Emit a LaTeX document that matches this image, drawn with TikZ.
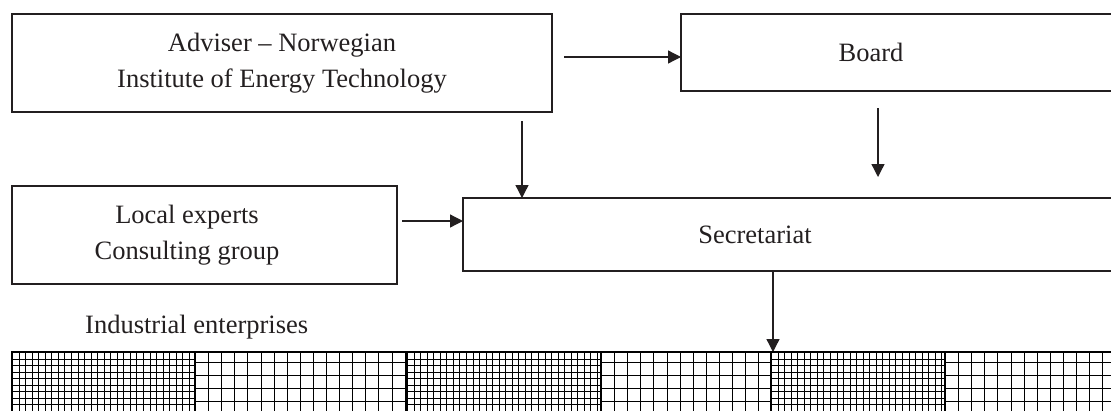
\documentclass[tikz,border=0pt]{standalone}
\usepackage{fontspec}
\setmainfont{Liberation Serif}
\usetikzlibrary{arrows.meta,calc}
\definecolor{ink}{HTML}{231F20}
\begin{document}
\begin{tikzpicture}[x=1bp,y=-1bp,
  box/.style={draw=ink,line width=1.8bp,inner sep=0pt,outer sep=0pt},
  txt/.style={font=\fontsize{26.5bp}{36bp}\selectfont,align=center,inner sep=0pt,text=ink},
  arr/.style={draw=ink,line width=1.3bp,-{Triangle[length=13bp,width=13bp]}},
  fine/.style={draw=black,line width=1.1bp},
  coarse/.style={draw=black,line width=1.7bp},
  sep/.style={draw=black,line width=2.2bp}]
\useasboundingbox (0,0) rectangle (1111,410);
\clip (0,0) rectangle (1111,410);

% boxes
\node[box,txt,minimum width=540bp,minimum height=98bp] (adv) at (282,63) {Adviser – Norwegian\\Institute of Energy Technology};
\node[box,minimum width=440bp,minimum height=77bp] (board) at (901,52.5) {};
\node[txt] (boardtxt) at (871,52.5) {Board};
\node[box,minimum width=385bp,minimum height=98bp] (loc) at (204.5,235) {};
\node[txt] (loctxt) at (187,235) {Local experts\\Consulting group};
\node[box,minimum width=660bp,minimum height=73bp] (sec) at (793,234.5) {};
\node[txt] (sectxt) at (755,234.5) {Secretariat};
\node[txt,anchor=base west] (ind) at (85,333) {Industrial enterprises};

% helper coordinates
\coordinate (xa) at (522,0);
\coordinate (xb) at (878,0);
\coordinate (xc) at (773,0);
\coordinate (ay) at (0,57);
\coordinate (ly) at (0,221);
\coordinate (bend) at (878,177);
\coordinate (bandtop) at (0,352);

% connectors
\draw[arr] ($(adv.east |- ay)+(12,0)$) -- (board.west |- ay);
\draw[arr] ($(adv.south -| xa)+(0,9)$) -- (sec.north -| xa);
\draw[arr] ($(board.south -| xb)+(0,17)$) -- (bend);
\draw[arr] ($(loc.east |- ly)+(5,0)$) -- (sec.west |- ly);
\draw[arr] (sec.south -| xc) -- (bandtop -| xc);

% industrial enterprises band
\foreach \a/\b in {12/195,407/601,771/945}{
  \begin{scope}
    \clip (\a,352) rectangle (\b,411);
    \foreach \i in {0,...,30} \draw[fine] ({\a+round(6.55*\i)+0.5},352) -- ++(0,60);
    \foreach \i in {0,...,9} \draw[fine] (\a,{352+round(6.5*\i)+0.5}) -- (\b,{352+round(6.5*\i)+0.5});
  \end{scope}
}
\foreach \a/\b in {195/407,601/771,945/1111}{
  \begin{scope}
    \clip (\a,352) rectangle (\b,411);
    \foreach \i in {0,...,17} \draw[coarse] ({\a+round(13.1*\i)+0.5},352) -- ++(0,60);
    \foreach \y in {362,375,388,401} \draw[coarse] (\a,\y+0.5) -- (\b,\y+0.5);
  \end{scope}
}
\foreach \x in {12,195,407,601,771,945} \draw[sep] (\x,351) -- (\x,411);
\draw[sep] (12,352) -- (1111,352);
\end{tikzpicture}
\end{document}
